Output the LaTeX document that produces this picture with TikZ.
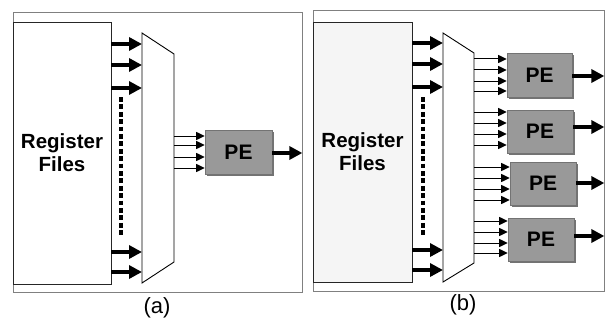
\documentclass[tikz,border=0pt]{standalone}
\usepackage{fontspec}
\setmainfont{Liberation Sans}
\usetikzlibrary{arrows.meta,shadows}

\begin{document}
\begin{tikzpicture}[x=1pt,y=-1pt,
  panel/.style={draw=black!50, line width=0.7pt, inner sep=0pt},
  regbox/.style={draw=black!85, line width=0.7pt, inner sep=0pt, align=center,
    font=\fontsize{20.5}{23}\selectfont\bfseries},
  muxshape/.style={draw=black, line width=0.9pt, fill=white},
  pebox/.style={draw=black!55, line width=0.6pt, fill=black!40, inner sep=0pt,
    font=\fontsize{21}{24}\selectfont\bfseries,
    drop shadow={shadow xshift=2pt, shadow yshift=-2pt, fill=black!55, opacity=1}},
  busarrow/.style={line width=3.8pt, -{Triangle[length=13pt,width=13pt]}},
  wirearrow/.style={line width=1pt, -{Triangle[length=8.5pt,width=8pt]}},
  outarrow/.style={line width=3.5pt, -{Triangle[length=13pt,width=13pt]}},
  dotsline/.style={line width=3.2pt, dash pattern=on 4.8pt off 2.6pt},
  caption/.style={font=\fontsize{22}{24}\selectfont, inner sep=0pt}
]
\useasboundingbox (0,0) rectangle (605,321);

% ---------------- panel (a): one PE ----------------
\node[panel, minimum width=289pt, minimum height=280pt] (frameA) at (157.5,152) {};
\node[regbox, minimum width=98pt, minimum height=262pt] (regA) at (62,153) {Register\\Files};

\coordinate (muxA-nw) at (142,33);
\coordinate (muxA-ne) at (174,54);
\coordinate (muxA-se) at (174,262);
\coordinate (muxA-sw) at (142,283);
\draw[muxshape] (muxA-nw) -- (muxA-ne) -- (muxA-se) -- (muxA-sw) -- cycle;

\foreach \y in {44,65,88,252,272} {
  \coordinate (row) at (0,\y);
  \draw[busarrow] (regA.east |- row) -- (muxA-nw |- row);
}
\coordinate (dotsA-top) at (121,97);
\coordinate (dotsA-bot) at (121,236);
\draw[dotsline] (dotsA-top) -- (dotsA-bot);

\node[pebox, minimum width=67pt, minimum height=44pt] (peA) at (238.5,152) {PE};
\foreach \y in {136,145,157,168} {
  \coordinate (row) at (0,\y);
  \draw[wirearrow] (muxA-ne |- row) -- (peA.west |- row);
}
\coordinate (row) at (0,153);
\draw[outarrow] (peA.east |- row) -- (frameA.east |- row);

\node[caption] (capA) at (157,308) {(a)};

% ---------------- panel (b): four PEs ----------------
\node[panel, minimum width=291pt, minimum height=281pt] (frameB) at (458.5,150.5) {};
\node[regbox, fill=black!4, minimum width=99pt, minimum height=260pt] (regB) at (362.5,152) {Register\\Files};

\coordinate (muxB-nw) at (443,33);
\coordinate (muxB-ne) at (474,53);
\coordinate (muxB-se) at (474,263);
\coordinate (muxB-sw) at (443,282);
\draw[muxshape] (muxB-nw) -- (muxB-ne) -- (muxB-se) -- (muxB-sw) -- cycle;

\foreach \y in {43,64,87,250,270} {
  \coordinate (row) at (0,\y);
  \draw[busarrow] (regB.east |- row) -- (muxB-nw |- row);
}
\coordinate (dotsB-top) at (423,97);
\coordinate (dotsB-bot) at (423,237);
\draw[dotsline] (dotsB-top) -- (dotsB-bot);

\node[pebox, minimum width=65pt, minimum height=44pt] (pe1) at (539.5,75) {PE};
\node[pebox, minimum width=66pt, minimum height=43pt] (pe2) at (540,131.5) {PE};
\node[pebox, minimum width=66pt, minimum height=43pt] (pe3) at (543,183.5) {PE};
\node[pebox, minimum width=66pt, minimum height=43pt] (pe4) at (541,239.5) {PE};

\foreach \pe/\ya/\yb/\yc/\yd/\yo in {pe1/59/70/81/91/76, pe2/112/123/134/145/127,
                                     pe3/167/178/189/200/183, pe4/221/232/243/253/236} {
  \foreach \y in {\ya,\yb,\yc,\yd} {
    \coordinate (row) at (0,\y);
    \draw[wirearrow] (muxB-ne |- row) -- (\pe.west |- row);
  }
  \coordinate (row) at (0,\yo);
  \draw[outarrow] (\pe.east |- row) -- (frameB.east |- row);
}

\node[caption] (capB) at (463,305) {(b)};
\end{tikzpicture}
\end{document}
